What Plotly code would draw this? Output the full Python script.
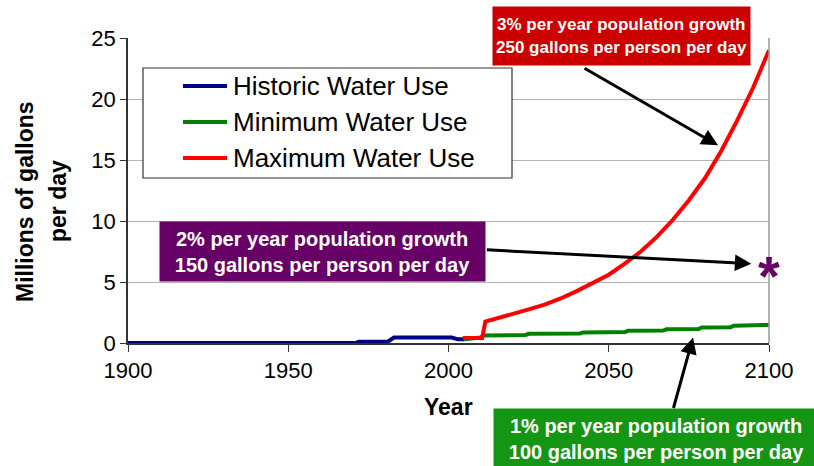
import plotly.graph_objects as go

# ---------------- data ----------------
hist_years = [1900, 1971, 1972, 1981, 1983, 2001, 2003, 2005]
hist_vals = [0.0, 0.0, 0.1, 0.1, 0.45, 0.45, 0.3, 0.3]

min_years = [2005, 2010, 2011, 2024, 2025, 2041, 2042, 2055, 2056, 2067, 2068, 2078, 2079, 2088, 2089, 2100]
min_vals = [0.3, 0.45, 0.62, 0.65, 0.75, 0.78, 0.87, 0.9, 1.0, 1.02, 1.12, 1.15, 1.27, 1.3, 1.42, 1.48]

max_years = [2004.5, 2010.5, 2011.5, 2015, 2020, 2025, 2030, 2035, 2040, 2045, 2050, 2055,
             2060, 2065, 2070, 2075, 2080, 2085, 2090, 2095, 2100]
max_vals = [0.4, 0.4, 1.75, 2.0, 2.35, 2.75, 3.15, 3.65, 4.25, 4.9, 5.6, 6.5,
            7.5, 8.7, 10.1, 11.7, 13.5, 15.7, 18.2, 20.9, 24.0]

star_year = [2100]
star_val = [6.5]

series_names = ["Historic Water Use", "Minimum Water Use", "Maximum Water Use"]
series_colors = ["#000080", "#008000", "#FF0000"]

x_ticks = [1900, 1950, 2000, 2050, 2100]
y_ticks = [0, 5, 10, 15, 20, 25]

# ---------------- layout geometry ----------------
W, H = 814, 466
L, R, T, B = 128, 45, 38, 123
PW, PH = W - L - R, H - T - B


def px(xp):
    return (xp - L) / PW


def py(yp):
    return (H - B - yp) / PH


FONT = "Arial, Liberation Sans, sans-serif"

fig = go.Figure()
for xs, ys, name, col in zip([hist_years, min_years, max_years],
                             [hist_vals, min_vals, max_vals],
                             series_names, series_colors):
    fig.add_trace(go.Scatter(x=xs, y=ys, mode="lines", name=name,
                             line=dict(color=col, width=4), showlegend=False))

shapes = []
annotations = []

# purple asterisk at the 2% scenario value (glyph centred on the data point)
for sx, sy in zip(star_year, star_val):
    annotations.append(dict(x=sx, y=sy, xref="x", yref="y", text="<b>*</b>",
                            showarrow=False, xanchor="center", yanchor="middle",
                            yshift=-12,
                            font=dict(family=FONT, size=56, color="#660066")))

# right border of plot area
shapes.append(dict(type="line", xref="paper", yref="paper", x0=1, x1=1, y0=0, y1=1,
                   line=dict(color="#999999", width=1.5)))

# manual legend
shapes.append(dict(type="rect", xref="paper", yref="paper",
                   x0=px(143), x1=px(512), y0=py(178), y1=py(68),
                   line=dict(color="#333333", width=1.2), fillcolor="white"))
rows = [86, 122, 158]
for name, col, ry in zip(series_names, series_colors, rows):
    shapes.append(dict(type="line", xref="paper", yref="paper",
                       x0=px(183), x1=px(227), y0=py(ry), y1=py(ry),
                       line=dict(color=col, width=4)))
    annotations.append(dict(xref="paper", yref="paper", x=px(231), y=py(ry),
                            xanchor="left", yanchor="middle", showarrow=False,
                            text=name, font=dict(family=FONT, size=26, color="black")))

# axis titles
annotations.append(dict(xref="paper", yref="paper", x=px(25), y=py(201), textangle=-90,
                        xanchor="center", yanchor="middle",
                        showarrow=False, text="<b>Millions of gallons</b>",
                        font=dict(family=FONT, size=23, color="black")))
annotations.append(dict(xref="paper", yref="paper", x=px(58), y=py(201), textangle=-90,
                        xanchor="center", yanchor="middle",
                        showarrow=False, text="<b>per day</b>",
                        font=dict(family=FONT, size=23, color="black")))
annotations.append(dict(xref="paper", yref="paper", x=px(448), y=py(407),
                        xanchor="center", yanchor="middle",
                        showarrow=False, text="<b>Year</b>",
                        font=dict(family=FONT, size=23, color="black")))

# callout boxes
annotations.append(dict(xref="paper", yref="paper", x=px(621.5), y=py(36),
                        xanchor="center", yanchor="middle", showarrow=False,
                        text="<b>3% per year population growth<br>250 gallons per person per day</b>",
                        font=dict(family=FONT, size=17, color="white"),
                        bgcolor="#CC0000", width=251, height=52, borderpad=3))
annotations.append(dict(xref="paper", yref="paper", x=px(322.5), y=py(251.5),
                        xanchor="center", yanchor="middle", showarrow=False,
                        text="<b>2% per year population growth<br>150 gallons per person per day</b>",
                        font=dict(family=FONT, size=20, color="white"),
                        bgcolor="#660066", width=319, height=53, borderpad=3))
annotations.append(dict(xref="paper", yref="paper", x=px(656.5), y=py(438),
                        xanchor="center", yanchor="middle", showarrow=False,
                        text="<b>1% per year population growth<br>100 gallons per person per day</b>",
                        font=dict(family=FONT, size=20, color="white"),
                        bgcolor="#149614", width=319, height=53, borderpad=3))

# arrows (head at data point, tail offset in pixels)
arrow_style = dict(showarrow=True, arrowhead=2, arrowsize=1.1, arrowwidth=3,
                   arrowcolor="black", text="", xref="x", yref="y")
annotations.append(dict(x=2084.1, y=16.2, ax=-135, ay=-78, **arrow_style))
annotations.append(dict(x=2094.5, y=6.5, ax=-266, ay=-14, **arrow_style))
annotations.append(dict(x=2076.3, y=0.45, ax=-20, ay=72, **arrow_style))

fig.update_layout(
    width=W, height=H,
    margin=dict(l=L, r=R, t=T, b=B),
    paper_bgcolor="white", plot_bgcolor="white",
    font=dict(family=FONT, size=22, color="black"),
    shapes=shapes, annotations=annotations,
    xaxis=dict(range=[1900, 2100], tickvals=x_ticks, ticks="outside", ticklen=7,
               tickcolor="#333333", showline=True, linecolor="#333333", linewidth=1.5,
               showgrid=False, zeroline=False, tickfont=dict(size=22)),
    yaxis=dict(range=[0, 25], tickvals=y_ticks, ticks="outside", ticklen=6,
               tickcolor="#333333", showline=True, linecolor="#333333", linewidth=1.5,
               showgrid=True, gridcolor="#B4B4B4", gridwidth=1.2, zeroline=False,
               tickfont=dict(size=22)),
)

fig.write_html("out.html")
